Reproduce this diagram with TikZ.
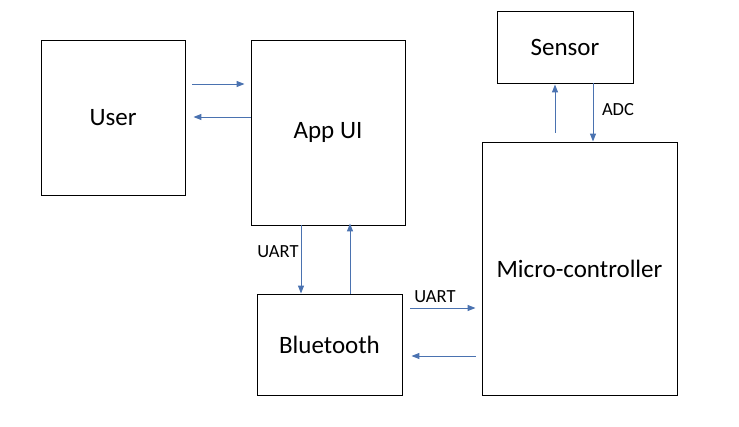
\documentclass[tikz,border=0pt]{standalone}
\usepackage{fontspec}
\setmainfont{Carlito}
\usetikzlibrary{positioning,arrows.meta}

\begin{document}
\begin{tikzpicture}[x=1pt,y=-1pt,
  block/.style={draw,line width=0.9pt,inner sep=0pt,font=\fontsize{25}{30}\selectfont},
  arr/.style={draw={rgb,255:red,74;green,114;blue,176},line width=1pt,
    -{Triangle[length=8pt,width=6pt]}},
  lbl/.style={inner sep=0pt,font=\fontsize{18.5}{22}\selectfont}]
\useasboundingbox (0,0) rectangle (739,426);
\node[block,minimum width=144pt,minimum height=155pt] (user) at (113,117.5) {User};
\node[block,minimum width=154pt,minimum height=185pt] (app) at (328,132.5) {App UI};
\node[block,minimum width=136pt,minimum height=72pt] (sensor) at (565,47) {Sensor};
\node[block,minimum width=195pt,minimum height=253pt] (micro) at (579.5,268.5) {Micro-controller};
\node[block,minimum width=145pt,minimum height=101pt] (bt) at (329.5,344.5) {Bluetooth};
% user <-> app
\draw[arr] ([xshift=7pt]user.east |- 0,84) -- ([xshift=-6pt]app.west |- 0,84);
\draw[arr] (app.west |- 0,117) -- ([xshift=8pt]user.east |- 0,117);
% app <-> bluetooth
\draw[arr] (app.south -| 301,0) -- (bt.north -| 301,0);
\draw[arr] (bt.north -| 350,0) -- ([yshift=2pt]app.south -| 350,0);
\node[lbl] (uart1) at (278,252) {UART};
% bluetooth <-> micro
\draw[arr] ([xshift=8pt]bt.east |- 0,308) -- ([xshift=-6pt]micro.west |- 0,308);
\draw[arr] ([xshift=-6pt]micro.west |- 0,356) -- ([xshift=9pt]bt.east |- 0,356);
\node[lbl] (uart2) at (435,297) {UART};
% micro <-> sensor
\draw[arr] ([yshift=9pt]micro.north -| 555,0) -- ([yshift=-1pt]sensor.south -| 555,0);
\draw[arr] (sensor.south -| 593,0) -- (micro.north -| 593,0);
\node[lbl] (adc) at (618,110) {ADC};
\end{tikzpicture}
\end{document}
